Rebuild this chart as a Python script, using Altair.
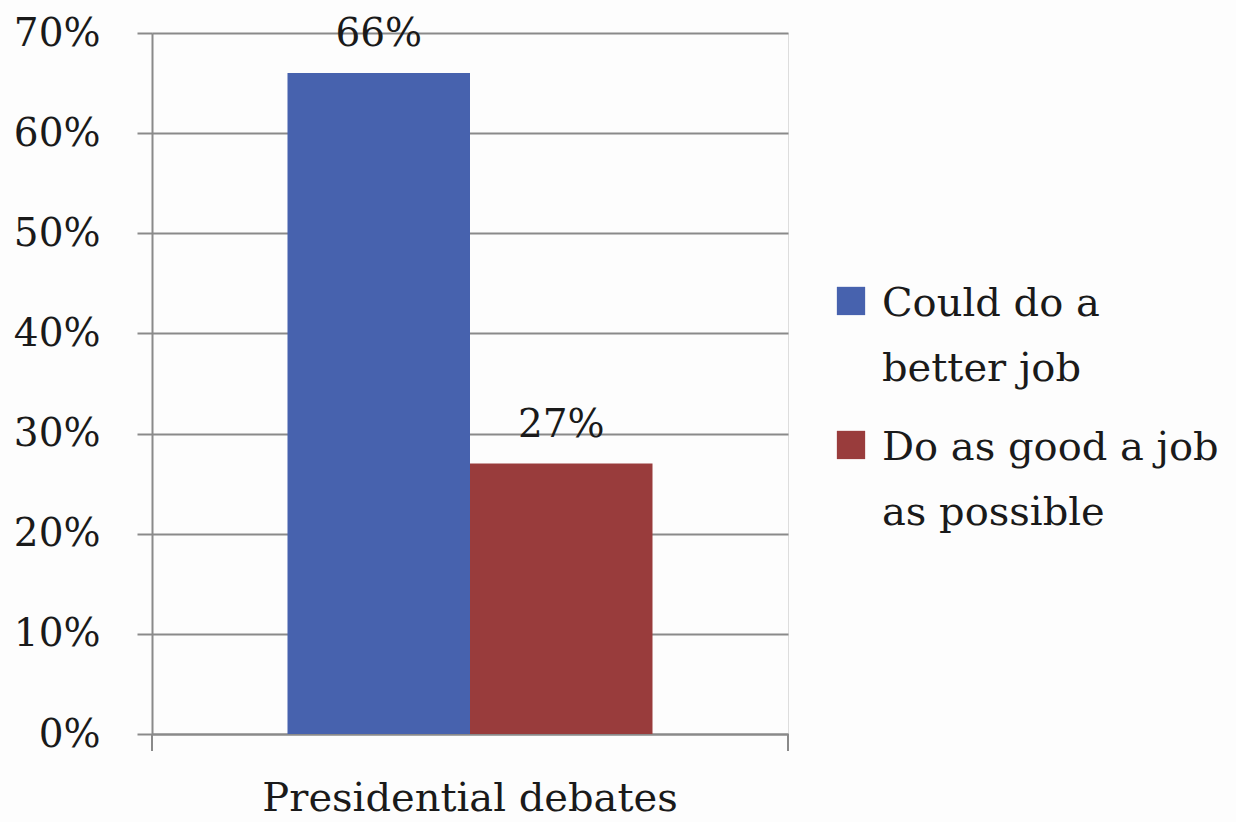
import altair as alt
import pandas as pd

category = ["Presidential debates"]
series = ["Could do a better job", "Do as good a job as possible"]
values = [0.66, 0.27]
colors = ["#4762ae", "#993c3c"]
y_ticks = [0, 0.1, 0.2, 0.3, 0.4, 0.5, 0.6, 0.7]

df = pd.DataFrame({
    "category": category * len(series),
    "series": series,
    "value": values,
})

FONT = "DejaVu Serif"
W, H = 636, 701
GRID = "#8a8a8a"
TXT = "#1a1a1a"

x_enc = alt.X("category:N", title=None,
              scale=alt.Scale(paddingInner=0, paddingOuter=0.3712),
              axis=alt.Axis(ticks=False, labelAngle=0, labelFontSize=40, labelFont=FONT,
                            labelColor=TXT, labelPadding=44, domainColor=GRID,
                            domainWidth=2, labelLimit=600))
xo_enc = alt.XOffset("series:N", sort=series,
                     scale=alt.Scale(paddingInner=0, paddingOuter=0))
y_enc = alt.Y("value:Q", title=None,
              scale=alt.Scale(domain=[0, 0.7], nice=False),
              axis=alt.Axis(values=y_ticks, format=".0%", tickSize=15, tickColor=GRID,
                            tickWidth=2, gridColor=GRID, gridWidth=2, gridOpacity=1,
                            domainColor=GRID, domainWidth=2, labelFontSize=39,
                            labelFont=FONT, labelColor=TXT, labelPadding=37))

legend_label = ("datum.label == 'Could do a better job' ? ['Could do a', 'better job'] : "
                "['Do as good a job', 'as possible']")

bars = alt.Chart(df).mark_bar().encode(
    x=x_enc,
    xOffset=xo_enc,
    y=y_enc,
    color=alt.Color("series:N", sort=series,
                    scale=alt.Scale(domain=series, range=colors),
                    legend=alt.Legend(title=None, orient="none", legendX=679, legendY=231,
                                      symbolType="M-1,0.2H1V2.2H-1Z", symbolSize=800,
                                      symbolStrokeWidth=0, labelFont=FONT,
                                      labelFontSize=40, labelColor=TXT,
                                      labelLimit=500, labelOffset=11, rowPadding=19,
                                      labelExpr=legend_label, labelBaseline="top",
                                      padding=0)),
)

labels = alt.Chart(df).mark_text(font=FONT, fontSize=39, color=TXT,
                                 baseline="alphabetic", dy=-27).encode(
    x=alt.X("category:N"),
    xOffset=alt.XOffset("series:N", sort=series),
    y=alt.Y("value:Q"),
    text=alt.Text("value:Q", format=".0%"),
)

edge_ticks = pd.DataFrame({"edge": [0, 1]})
tick_left = alt.Chart(edge_ticks).mark_rule(color=GRID, strokeWidth=2).encode(
    x=alt.value(0), y=alt.value(H), y2=alt.value(H + 17))
tick_right = alt.Chart(edge_ticks).mark_rule(color=GRID, strokeWidth=2).encode(
    x=alt.value(W), y=alt.value(H), y2=alt.value(H + 17))

chart = alt.layer(bars, labels, tick_left, tick_right).properties(
    width=W, height=H,
    autosize=alt.AutoSizeParams(type="none"),
    padding={"left": 152, "top": 33, "right": 448, "bottom": 88},
    background="#fdfdfd",
).configure_view(stroke=None).configure(
    style={"guide-label": {"lineHeight": 65}}
)

chart.save("out.html", embed_options={"renderer": "svg", "actions": False})
